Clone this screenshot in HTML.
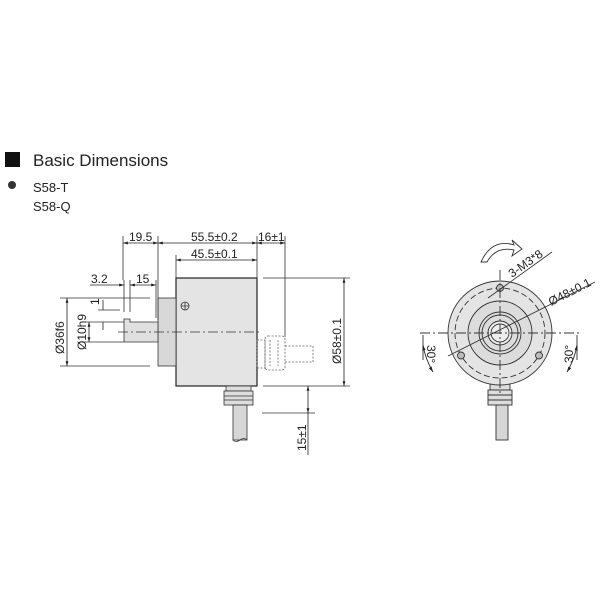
<!DOCTYPE html>
<html><head><style>body{margin:0;background:#fff}svg{display:block}</style></head><body>
<svg width="600" height="600" viewBox="0 0 600 600" xmlns="http://www.w3.org/2000/svg" font-family="Liberation Sans, sans-serif">
<defs>
<marker id="a" viewBox="0 0 10 10" refX="10" refY="5" markerWidth="6" markerHeight="6" orient="auto-start-reverse"><path d="M0,2 L10,5 L0,8 z" fill="#222"/></marker>
</defs>
<rect width="600" height="600" fill="#fff"/>
<rect x="5" y="152" width="15" height="15" fill="#111"/>
<text x="33" y="166" font-size="17" fill="#222">Basic Dimensions</text>
<circle cx="12" cy="185" r="4" fill="#333"/>
<text x="33" y="192" font-size="13" fill="#222">S58-T</text>
<text x="33" y="211" font-size="13" fill="#222">S58-Q</text>

<g stroke="#333" stroke-width="0.8" fill="none">
<rect x="176" y="278" width="81" height="108" fill="#e4e4e4" stroke="#222" stroke-width="1.2"/>
<rect x="158" y="298" width="18" height="68" fill="#d8d8d8"/>
<path d="M124,322 L124,342 L158,342 L158,322 L130,322 L130,319 L124,319 Z" fill="#e0e0e0"/>
<circle cx="185" cy="306" r="4"/><path d="M181,306h8M185,302v8"/>
<g stroke-dasharray="2,1.5" stroke="#666">
<rect x="257" y="340" width="8" height="28"/><rect x="265" y="336" width="20" height="34" rx="3"/>
<path d="M285,346 L313,346 L313,362 L285,362"/><path d="M270,340v26M278,340v26"/>
</g>
<rect x="226" y="386" width="25" height="5" fill="#ddd"/>
<rect x="224" y="391" width="29" height="14" fill="#ddd"/>
<path d="M224,396h29M224,400h29"/>
<rect x="233" y="405" width="14" height="35" fill="#d6d6d6"/>
<path d="M233,440 q3,3 7,0 q4,-3 7,0"/>
<path d="M118,332 L262,332" stroke-dasharray="10,3,2,3"/>
<path d="M123,236V280M158,236V320M257,236V280M285,236V337M176,255V278M124,280V312M130,280V312M156,280V318"/>
<path d="M60,298H150M60,366H150M83,322H124M83,342H124M98,310H120M263,278H350M263,386H350M262,413H315"/>
</g>
<g stroke="#222" stroke-width="0.8" fill="none" marker-start="url(#a)" marker-end="url(#a)">
<path d="M123,243H158"/><path d="M158,243H257"/><path d="M257,243H285"/>
<path d="M176,260H257"/>
<path d="M130,285H156"/>
<path d="M67,298V366"/><path d="M89,322V342"/><path d="M344,278V386"/><path d="M308,386V413"/>
</g>
<g stroke="#222" stroke-width="0.8" fill="none">
<path d="M90,285H124" marker-end="url(#a)"/>
<path d="M103,300V310" /><path d="M103,322V330"/>
<path d="M308,413V455"/>
</g>
<g font-size="12" fill="#222">
<text x="129" y="241">19.5</text><text x="191" y="241">55.5±0.2</text><text x="258" y="241">16±1</text>
<text x="191" y="258">45.5±0.1</text>
<text x="91" y="283">3.2</text><text x="136" y="283">15</text>
<text transform="translate(64,354) rotate(-90)">Ø36f6</text>
<text transform="translate(86,350) rotate(-90)">Ø10h9</text>
<text transform="translate(99,305) rotate(-90)">1</text>
<text transform="translate(341,364) rotate(-90)">Ø58±0.1</text>
<text transform="translate(306,451) rotate(-90)">15±1</text>
</g>

<g stroke="#333" stroke-width="0.9" fill="none">
<rect x="490" y="383" width="20" height="7" fill="#ddd"/>
<rect x="488" y="390" width="24" height="15" fill="#ddd"/><path d="M488,395h24M488,400h24"/>
<rect x="496" y="405" width="12" height="35" fill="#d6d6d6"/>
<circle cx="500" cy="333" r="52" fill="#e4e4e4"/>
<circle cx="500" cy="333" r="45" stroke-dasharray="6,3"/>
<circle cx="500" cy="333" r="32" fill="#dcdcdc"/>
<circle cx="500" cy="333" r="21"/>
<circle cx="500" cy="333" r="18"/>
<circle cx="500" cy="333" r="12" fill="#eee"/>
<circle cx="500" cy="333" r="9"/>
<circle cx="500" cy="288" r="3.5" fill="#bbb"/>
<circle cx="461" cy="355.5" r="3.5" fill="#bbb"/>
<circle cx="539" cy="355.5" r="3.5" fill="#bbb"/>
<path d="M420,333H580M500,270V395" stroke-dasharray="10,3,2,3"/>
<path d="M423,335V360M577,335V360"/>
<path d="M488,298 L552,252"/><path d="M448,356 L595,282"/>
<path d="M423,345 A77,77 0 0 0 433,372" marker-start="url(#a)" marker-end="url(#a)"/>
<path d="M577,345 A77,77 0 0 1 567,372" marker-start="url(#a)" marker-end="url(#a)"/>
</g>
<path d="M481,262 Q492,238 514,245 L512,240 L522,249 L512,256 L514,250 Q496,246 487,262 Z" fill="#fff" stroke="#333" stroke-width="0.9"/>
<g font-size="12" fill="#222">
<text transform="translate(512,278) rotate(-35)">3-M3*8</text>
<text transform="translate(551,306) rotate(-27)">Ø48±0.1</text>
<text transform="translate(427,345) rotate(90)">30°</text>
<text transform="translate(573,363) rotate(-90)">30°</text>
</g>
</svg>
</body></html>
